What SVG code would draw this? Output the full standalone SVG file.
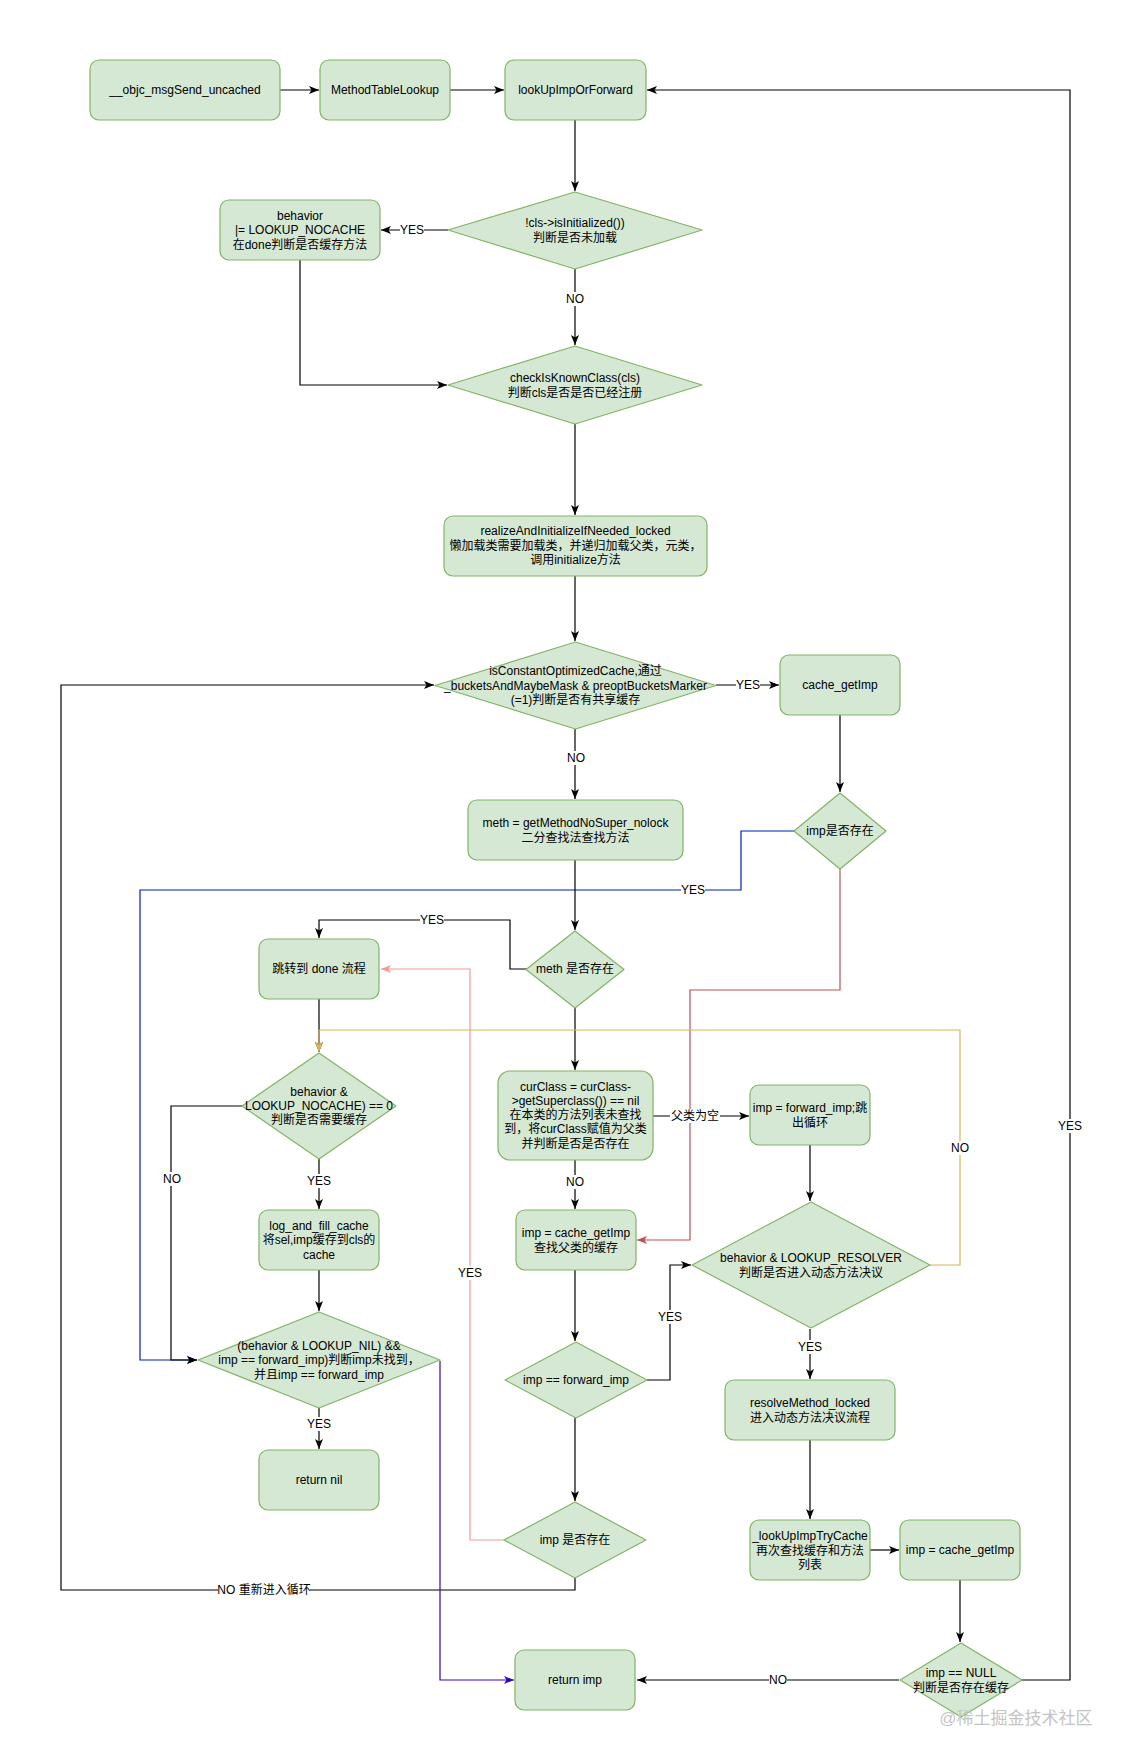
<svg xmlns="http://www.w3.org/2000/svg" width="1131" height="1761" viewBox="0 0 1131 1761">
<defs>
<style>
.n{fill:#d5e8d4;stroke:#82b366;stroke-width:1.2}
.d{fill:#d5e8d4;stroke:#82b366;stroke-width:1.2;stroke-linejoin:round}
text{font-family:"Liberation Sans","Noto Sans CJK SC",sans-serif;font-size:12px;fill:#000;text-anchor:middle;dominant-baseline:central}
.e{fill:none;stroke:#000;stroke-width:1.2}
.lb{fill:#fff}
</style>
<marker id="ak" viewBox="0 0 10 8" refX="10" refY="4" markerWidth="10" markerHeight="8" markerUnits="userSpaceOnUse" orient="auto"><path d="M0,0 L10,4 L0,8 L2.5,4 z" fill="#000"/></marker>
<marker id="ab" viewBox="0 0 10 8" refX="10" refY="4" markerWidth="10" markerHeight="8" markerUnits="userSpaceOnUse" orient="auto"><path d="M0,0 L10,4 L0,8 L2.5,4 z" fill="#001DBC"/></marker>
<marker id="ar" viewBox="0 0 10 8" refX="10" refY="4" markerWidth="10" markerHeight="8" markerUnits="userSpaceOnUse" orient="auto"><path d="M0,0 L10,4 L0,8 L2.5,4 z" fill="#B85450"/></marker>
<marker id="ap" viewBox="0 0 10 8" refX="10" refY="4" markerWidth="10" markerHeight="8" markerUnits="userSpaceOnUse" orient="auto"><path d="M0,0 L10,4 L0,8 L2.5,4 z" fill="#F19C99"/></marker>
<marker id="ao" viewBox="0 0 10 8" refX="10" refY="4" markerWidth="10" markerHeight="8" markerUnits="userSpaceOnUse" orient="auto"><path d="M0,0 L10,4 L0,8 L2.5,4 z" fill="#D6B656"/></marker>
<marker id="au" viewBox="0 0 10 8" refX="10" refY="4" markerWidth="10" markerHeight="8" markerUnits="userSpaceOnUse" orient="auto"><path d="M0,0 L10,4 L0,8 L2.5,4 z" fill="#3700CC"/></marker>
</defs>
<rect width="1131" height="1761" fill="#fff"/>

<g id="connectors">
<path class="e" d="M280,90 L319,90" marker-end="url(#ak)"/>
<path class="e" d="M450,90 L504,90" marker-end="url(#ak)"/>
<path class="e" d="M575,120 L575,191" marker-end="url(#ak)"/>
<path class="e" d="M448,230 L381,230" marker-end="url(#ak)"/>
<path class="e" d="M575,269 L575,345" marker-end="url(#ak)"/>
<path class="e" d="M300,260 L300,385 L447,385" marker-end="url(#ak)"/>
<path class="e" d="M575,424 L575,515" marker-end="url(#ak)"/>
<path class="e" d="M575,576 L575,641" marker-end="url(#ak)"/>
<path class="e" d="M716,685 L779,685" marker-end="url(#ak)"/>
<path class="e" d="M575,729 L575,799" marker-end="url(#ak)"/>
<path class="e" d="M840,715 L840,792" marker-end="url(#ak)"/>
<path class="e" d="M794,831 L741,831 L741,890 L140,890 L140,1360 L197,1360" style="stroke:#001DBC" marker-end="url(#ab)"/>
<path class="e" d="M840,868 L840,990 L690,990 L690,1240 L637,1240" style="stroke:#B85450" marker-end="url(#ar)"/>
<path class="e" d="M575,860 L575,930" marker-end="url(#ak)"/>
<path class="e" d="M527,969 L510,969 L510,920 L319,920 L319,938" marker-end="url(#ak)"/>
<path class="e" d="M575,1007 L575,1070" marker-end="url(#ak)"/>
<path class="e" d="M653,1116 L749,1116" marker-end="url(#ak)"/>
<path class="e" d="M810,1145 L810,1201" marker-end="url(#ak)"/>
<path class="e" d="M319,999 L319,1052" marker-end="url(#ak)"/>
<path class="e" d="M930,1265 L960,1265 L960,1030 L319,1030 L319,1052" style="stroke:#D6B656" marker-end="url(#ao)"/>
<path class="e" d="M575,1160 L575,1209" marker-end="url(#ak)"/>
<path class="e" d="M575,1270 L575,1341" marker-end="url(#ak)"/>
<path class="e" d="M647,1380 L670,1380 L670,1265 L691,1265" marker-end="url(#ak)"/>
<path class="e" d="M575,1418 L575,1501" marker-end="url(#ak)"/>
<path class="e" d="M504,1540 L470,1540 L470,969 L381,969" style="stroke:#F19C99" marker-end="url(#ap)"/>
<path class="e" d="M575,1578 L575,1590 L61,1590 L61,685 L434,685" marker-end="url(#ak)"/>
<path class="e" d="M319,1159 L319,1209" marker-end="url(#ak)"/>
<path class="e" d="M242,1106 L171,1106 L171,1360 L197,1360" marker-end="url(#ak)"/>
<path class="e" d="M319,1270 L319,1311" marker-end="url(#ak)"/>
<path class="e" d="M319,1408 L319,1449" marker-end="url(#ak)"/>
<path class="e" d="M440,1361 L440,1680 L514,1680" style="stroke:#3700CC" marker-end="url(#au)"/>
<path class="e" d="M810,1329 L810,1379" marker-end="url(#ak)"/>
<path class="e" d="M810,1440 L810,1519" marker-end="url(#ak)"/>
<path class="e" d="M870,1550 L899,1550" marker-end="url(#ak)"/>
<path class="e" d="M960,1580 L960,1642" marker-end="url(#ak)"/>
<path class="e" d="M899,1680 L637,1680" marker-end="url(#ak)"/>
<path class="e" d="M1022,1680 L1070,1680 L1070,90 L647,90" marker-end="url(#ak)"/>

<g id="edge-labels">
<rect class="lb" x="400" y="223" width="24" height="14"/><text x="412" y="230">YES</text>
<rect class="lb" x="566" y="292" width="18" height="14"/><text x="575" y="299">NO</text>
<rect class="lb" x="736" y="678" width="24" height="14"/><text x="748" y="685">YES</text>
<rect class="lb" x="567" y="751" width="18" height="14"/><text x="576" y="758">NO</text>
<rect class="lb" x="681" y="883" width="24" height="14"/><text x="693" y="890">YES</text>
<rect class="lb" x="420" y="913" width="24" height="14"/><text x="432" y="920">YES</text>
<rect class="lb" x="670" y="1109" width="50" height="14"/><text x="695" y="1116">父类为空</text>
<rect class="lb" x="951" y="1141" width="18" height="14"/><text x="960" y="1148">NO</text>
<rect class="lb" x="566" y="1175" width="18" height="14"/><text x="575" y="1182">NO</text>
<rect class="lb" x="658" y="1310" width="24" height="14"/><text x="670" y="1317">YES</text>
<rect class="lb" x="458" y="1266" width="24" height="14"/><text x="470" y="1273">YES</text>
<rect class="lb" x="218" y="1583" width="92" height="14"/><text x="264" y="1590">NO 重新进入循环</text>
<rect class="lb" x="307" y="1174" width="24" height="14"/><text x="319" y="1181">YES</text>
<rect class="lb" x="162" y="1172" width="18" height="14"/><text x="172" y="1179">NO</text>
<rect class="lb" x="307" y="1417" width="24" height="14"/><text x="319" y="1424">YES</text>
<rect class="lb" x="798" y="1340" width="24" height="14"/><text x="810" y="1347">YES</text>
<rect class="lb" x="769" y="1673" width="18" height="14"/><text x="778" y="1680">NO</text>
<rect class="lb" x="1058" y="1119" width="24" height="14"/><text x="1070" y="1126">YES</text>
</g>
</g>

<g id="n1"><rect class="n" x="90" y="60" width="190" height="60" rx="9"/><text x="185" y="90">__objc_msgSend_uncached</text></g>
<g id="n2"><rect class="n" x="320" y="60" width="130" height="60" rx="9"/><text x="385" y="90">MethodTableLookup</text></g>
<g id="n3"><rect class="n" x="505" y="60" width="141" height="60" rx="9"/><text x="575.5" y="90">lookUpImpOrForward</text></g>
<g id="n4"><polygon class="d" points="575,192 702,230 575,269 448,230"/><text x="575" y="223">!cls-&gt;isInitialized())</text><text x="575" y="238">判断是否未加载</text></g>
<g id="n5"><rect class="n" x="220" y="200" width="160" height="60" rx="9"/><text x="300" y="215.5">behavior</text><text x="300" y="230">|= LOOKUP_NOCACHE</text><text x="300" y="244.5">在done判断是否缓存方法</text></g>
<g id="n6"><polygon class="d" points="575,346 702,385 575,424 448,385"/><text x="575" y="378">checkIsKnownClass(cls)</text><text x="575" y="392.5">判断cls是否是否已经注册</text></g>
<g id="n7"><rect class="n" x="444" y="516" width="263" height="60" rx="9"/><text x="575.5" y="531">realizeAndInitializeIfNeeded_locked</text><text x="575.5" y="545.5">懒加载类需要加载类，并递归加载父类，元类，</text><text x="575.5" y="560">调用initialize方法</text></g>
<g id="n8"><polygon class="d" points="575.5,642 716,685.5 575.5,729 435,685.5"/><text x="575.5" y="671">isConstantOptimizedCache,通过</text><text x="575.5" y="685.5">_bucketsAndMaybeMask &amp; preoptBucketsMarker</text><text x="575.5" y="700">(=1)判断是否有共享缓存</text></g>
<g id="n9"><rect class="n" x="780" y="655" width="120" height="60" rx="9"/><text x="840" y="685">cache_getImp</text></g>
<g id="n10"><polygon class="d" points="840,793 886,831 840,869 794,831"/><text x="840" y="831">imp是否存在</text></g>
<g id="n11"><rect class="n" x="468" y="800" width="215" height="60" rx="9"/><text x="575.5" y="823">meth = getMethodNoSuper_nolock</text><text x="575.5" y="838">二分查找法查找方法</text></g>
<g id="n12"><polygon class="d" points="575,931 624,969.5 575,1008 526,969.5"/><text x="575" y="969">meth 是否存在</text></g>
<g id="n13"><rect class="n" x="259" y="939" width="120" height="60" rx="9"/><text x="319" y="969">跳转到 done 流程</text></g>
<g id="n14"><rect class="n" x="498" y="1071" width="155" height="89" rx="12"/><text x="575.5" y="1086.5">curClass = curClass-</text><text x="575.5" y="1100.8">&gt;getSuperclass()) == nil</text><text x="575.5" y="1115.1">在本类的方法列表未查找</text><text x="575.5" y="1129.4">到，将curClass赋值为父类</text><text x="575.5" y="1143.7">并判断是否是否存在</text></g>
<g id="n15"><rect class="n" x="750" y="1085" width="120" height="60" rx="9"/><text x="810" y="1108">imp = forward_imp;跳</text><text x="810" y="1122.5">出循环</text></g>
<g id="n16"><polygon class="d" points="811,1202 930,1265 811,1328 692,1265"/><text x="811" y="1258">behavior &amp; LOOKUP_RESOLVER</text><text x="811" y="1272.5">判断是否进入动态方法决议</text></g>
<g id="n17"><polygon class="d" points="319,1053 396,1106 319,1159 242,1106"/><text x="319" y="1092">behavior &amp;</text><text x="319" y="1106">LOOKUP_NOCACHE) == 0</text><text x="319" y="1120">判断是否需要缓存</text></g>
<g id="n18"><rect class="n" x="259" y="1210" width="120" height="60" rx="9"/><text x="319" y="1225.7">log_and_fill_cache</text><text x="319" y="1240">将sel,imp缓存到cls的</text><text x="319" y="1254.5">cache</text></g>
<g id="n19"><polygon class="d" points="319,1312 440,1360 319,1408 198,1360"/><text x="319" y="1346">(behavior &amp; LOOKUP_NIL) &amp;&amp;</text><text x="319" y="1360">imp == forward_imp)判断imp未找到，</text><text x="319" y="1375">并且imp == forward_imp</text></g>
<g id="n20"><rect class="n" x="259" y="1450" width="120" height="60" rx="9"/><text x="319" y="1480">return nil</text></g>
<g id="n21"><rect class="n" x="516" y="1210" width="120" height="60" rx="9"/><text x="576" y="1233">imp = cache_getImp</text><text x="576" y="1248">查找父类的缓存</text></g>
<g id="n22"><polygon class="d" points="576,1342 647,1380 576,1418 505,1380"/><text x="576" y="1380">imp == forward_imp</text></g>
<g id="n23"><polygon class="d" points="575,1502 646,1540 575,1578 504,1540"/><text x="575" y="1540">imp 是否存在</text></g>
<g id="n24"><rect class="n" x="725" y="1380" width="170" height="60" rx="9"/><text x="810" y="1403">resolveMethod_locked</text><text x="810" y="1417.5">进入动态方法决议流程</text></g>
<g id="n25"><rect class="n" x="750" y="1520" width="120" height="60" rx="9"/><text x="810" y="1536">_lookUpImpTryCache</text><text x="810" y="1550.5">再次查找缓存和方法</text><text x="810" y="1565">列表</text></g>
<g id="n26"><rect class="n" x="900" y="1520" width="120" height="60" rx="9"/><text x="960" y="1550">imp = cache_getImp</text></g>
<g id="n27"><polygon class="d" points="961,1643 1022,1680 961,1717 900,1680"/><text x="961" y="1673">imp == NULL</text><text x="961" y="1688">判断是否存在缓存</text></g>
<g id="n28"><rect class="n" x="515" y="1650" width="120" height="60" rx="9"/><text x="575" y="1680">return imp</text></g>

<text x="1016" y="1718" style="font-size:17px;fill:#c4c4c4">@稀土掘金技术社区</text>
</svg>
